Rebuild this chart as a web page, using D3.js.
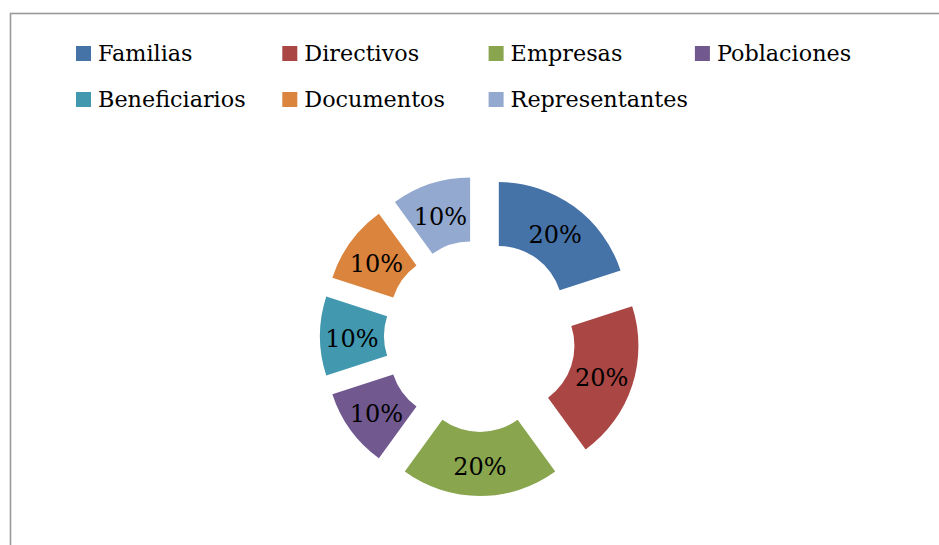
<!DOCTYPE html>
<html>
<head>
<meta charset="utf-8">
<script src="https://cdn.jsdelivr.net/npm/d3@7"></script>
<style>
    body { margin: 0; background: #fff; }
    svg { display: block; }
</style>
</head>
<body>
<div id="chart"></div>
<script>
// data
const categories = ["Familias", "Directivos", "Empresas", "Poblaciones", "Beneficiarios", "Documentos", "Representantes"];
const values = [20, 20, 20, 10, 10, 10, 10];
const colors = ["#4572A7", "#AA4643", "#89A54E", "#71588F", "#4198AF", "#DB843D", "#93A9CF"];

function createChart() {
    let width = 939;
    let height = 545;
    const font = "'DejaVu Serif', serif";

    const svg = d3.select('#chart').append("svg")
        .attr("width", width)
        .attr("height", height);

    // chart frame (right and bottom run off the page)
    svg.append("rect")
        .attr("x", 10.5)
        .attr("y", 13.5)
        .attr("width", 960)
        .attr("height", 600)
        .attr("fill", "none")
        .attr("stroke", "#9a9a9a")
        .attr("stroke-width", 1.6);

    // legend, 4 columns
    const legendCol = d3.scaleLinear().domain([0, 1]).range([76, 282.3]);
    const legendRow = d3.scaleLinear().domain([0, 1]).range([61, 107]);

    const legend = svg.append("g")
        .selectAll("g")
        .data(categories)
        .join("g")
        .attr("transform", (d, i) => `translate(${legendCol(i % 4)},${legendRow(Math.floor(i / 4))})`);

    legend.append("rect")
        .attr("x", 0)
        .attr("y", -15)
        .attr("width", 15)
        .attr("height", 15)
        .attr("fill", (d, i) => colors[i]);

    legend.append("text")
        .attr("x", 22)
        .attr("y", 0)
        .attr("font-family", font)
        .attr("font-size", 22.3)
        .attr("fill", "#000")
        .text(d => d);

    // exploded doughnut
    const cx = 480, cy = 336;
    const outer = 128, inner = 64, explode = 32;

    const pie = d3.pie().sort(null).value(d => d);
    const arcs = pie(values);
    const total = d3.sum(values);

    const arc = d3.arc().innerRadius(inner).outerRadius(outer);

    const slices = svg.append("g")
        .attr("transform", `translate(${cx},${cy})`)
        .selectAll("g")
        .data(arcs)
        .join("g")
        .attr("transform", d => {
            const a = (d.startAngle + d.endAngle) / 2;
            return `translate(${explode * Math.sin(a)},${-explode * Math.cos(a)})`;
        });

    slices.append("path")
        .attr("d", arc)
        .attr("fill", (d, i) => colors[i]);

    slices.append("text")
        .attr("transform", d => `translate(${arc.centroid(d)})`)
        .attr("text-anchor", "middle")
        .attr("dy", "0.45em")
        .attr("font-family", font)
        .attr("font-size", 24)
        .attr("fill", "#000")
        .text(d => Math.round(d.data / total * 100) + "%");
}

document.addEventListener('DOMContentLoaded', function (e) {
    createChart();
});
</script>
</body>
</html>
